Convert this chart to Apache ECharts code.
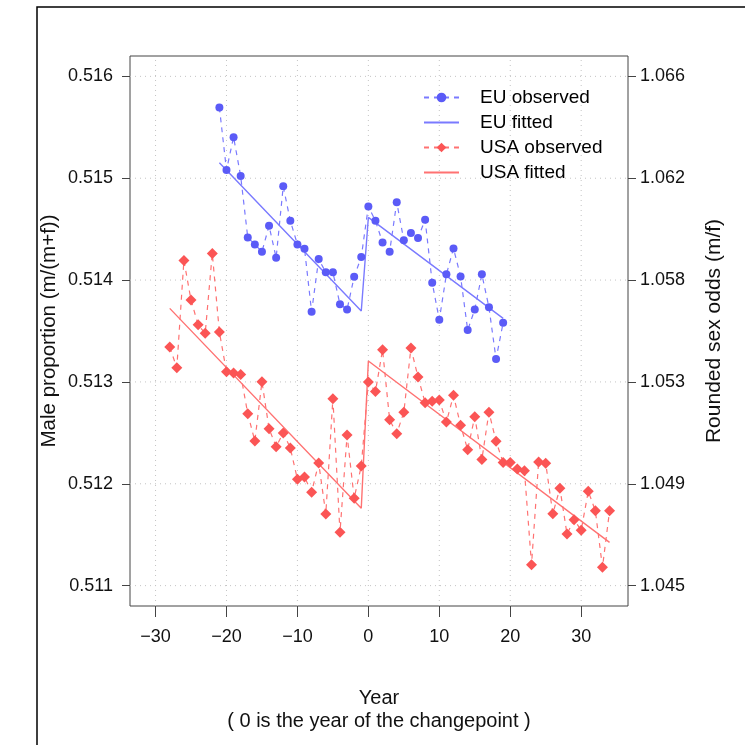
<!DOCTYPE html>
<html>
<head>
<meta charset="utf-8">
<script src="https://cdn.jsdelivr.net/npm/echarts@6/dist/echarts.min.js"></script>
<style>
html,body{margin:0;padding:0;background:#fff;}
#chart{width:745px;height:745px;}
</style>
</head>
<body>
<div id="chart"></div>
<script>
// ---- data ----
const euYears = [-21,-20,-19,-18,-17,-16,-15,-14,-13,-12,-11,-10,-9,-8,-7,-6,-5,-4,-3,-2,-1,
  0,1,2,3,4,5,6,7,8,9,10,11,12,13,14,15,16,17,18,19];
const euObserved = [0.515695,0.515080,0.515403,0.515021,0.514419,0.514350,0.514278,0.514533,0.514219,0.514920,
  0.514582,0.514350,0.514307,0.513689,0.514206,0.514076,0.514076,0.513762,0.513712,0.514032,0.514226,
  0.514723,0.514582,0.514370,0.514278,0.514765,0.514390,0.514461,0.514412,0.514592,0.513974,
  0.513610,0.514056,0.514311,0.514036,0.513509,0.513712,0.514056,0.513732,0.513225,0.513581];
const euFitYears = [-21,-1,0,19];
const euFitted = [0.515151,0.513696,0.514615,0.513624];

const usaYears = [-28,-27,-26,-25,-24,-23,-22,-21,-20,-19,-18,-17,-16,-15,-14,-13,-12,-11,-10,-9,-8,-7,-6,-5,-4,-3,-2,-1,
  0,1,2,3,4,5,6,7,8,9,10,11,12,13,14,15,16,17,18,19,20,21,22,23,24,25,26,27,28,29,30,31,32,33,34];
const usaObserved = [0.513342,0.513139,0.514193,0.513804,0.513561,0.513477,0.514262,0.513490,0.513100,0.513087,
  0.513074,0.512688,0.512420,0.513002,0.512541,0.512364,0.512499,0.512351,0.512044,0.512067,
  0.511917,0.512204,0.511704,0.512836,0.511523,0.512478,0.511859,0.512175,
  0.513000,0.512905,0.513316,0.512629,0.512492,0.512702,0.513333,0.513048,0.512796,0.512810,
  0.512822,0.512606,0.512868,0.512574,0.512335,0.512659,0.512238,0.512703,0.512418,0.512208,
  0.512208,0.512146,0.512129,0.511206,0.512215,0.512202,0.511705,0.511956,0.511507,0.511648,
  0.511543,0.511926,0.511734,0.511180,0.511734];
const usaFitYears = [-28,-1,0,34];
const usaFitted = [0.513722,0.511760,0.513205,0.511425];

const xTicks = [-30,-20,-10,0,10,20,30];
const xTickLabels = ['\u221230','\u221220','\u221210','0','10','20','30'];
const yTicks = [0.511,0.512,0.513,0.514,0.515,0.516];
const yTickLabels = ['0.511','0.512','0.513','0.514','0.515','0.516'];
const rightTickLabels = ['1.045','1.049','1.053','1.058','1.062','1.066'];

const seriesNames = ['EU observed','EU fitted','USA observed','USA fitted'];

// ---- chart ----
const FONT = '"Liberation Sans", Arial, sans-serif';
const X_MIN = -33.6, X_MAX = 36.6, Y_MIN = 0.5108, Y_MAX = 0.5162;
const pair = (xs, ys) => xs.map((x, i) => [x, ys[i]]);
const idxOf = (arr, v) => arr.findIndex(t => Math.abs(t - v) < 1e-9);

const chart = echarts.init(document.getElementById('chart'), null, {renderer: 'canvas'});

const yAxisBase = {
  type: 'value', min: Y_MIN, max: Y_MAX,
  splitLine: {show: false},
  axisLine: {show: false, onZero: false},
  axisTick: {show: true, inside: false, length: 8, customValues: yTicks, lineStyle: {color: '#444'}},
};

const gridLineStyle = {type: [1, 4], color: '#c4c4c4', width: 1};
const gridSeries = xTicks.map(v => ({
  name: 'gx' + v, type: 'line', data: [[v, Y_MIN], [v, Y_MAX]], symbol: 'none', silent: true, z: 0,
  lineStyle: gridLineStyle
})).concat(yTicks.map(v => ({
  name: 'gy' + v, type: 'line', data: [[X_MIN, v], [X_MAX, v]], symbol: 'none', silent: true, z: 0,
  lineStyle: gridLineStyle
})));

chart.setOption({
  animation: false,
  backgroundColor: '#fff',
  textStyle: {fontFamily: FONT},
  grid: {left: 130, top: 56, width: 498, height: 550, show: true, borderColor: '#444', borderWidth: 1, backgroundColor: 'transparent', containLabel: false},
  xAxis: {
    type: 'value', min: X_MIN, max: X_MAX,
    splitLine: {show: false},
    axisLine: {show: false, onZero: false},
    axisTick: {show: true, length: 11, customValues: xTicks, lineStyle: {color: '#444'}},
    axisLabel: {customValues: xTicks, margin: 22, fontSize: 18, color: '#111', fontFamily: FONT,
      formatter: v => xTickLabels[idxOf(xTicks, v)]}
  },
  yAxis: [
    Object.assign({}, yAxisBase, {position: 'left',
      axisLabel: {customValues: yTicks, margin: 17, fontSize: 18, color: '#111', fontFamily: FONT,
        formatter: v => yTickLabels[idxOf(yTicks, v)]}}),
    Object.assign({}, yAxisBase, {position: 'right',
      axisLabel: {customValues: yTicks, margin: 12, fontSize: 18, color: '#111', fontFamily: FONT,
        formatter: v => rightTickLabels[idxOf(yTicks, v)]}})
  ],
  legend: {
    orient: 'vertical', left: 423, top: 88, padding: 0,
    itemWidth: 35, itemHeight: 12, itemGap: 6,
    data: [
      {name: seriesNames[0]},
      {name: seriesNames[1], itemStyle: {opacity: 0}},
      {name: seriesNames[2]},
      {name: seriesNames[3], itemStyle: {opacity: 0}}
    ],
    textStyle: {fontSize: 19, color: '#000', fontFamily: FONT, padding: [0, 0, 0, 16], lineHeight: 16}
  },
  series: gridSeries.concat([
    {
      name: seriesNames[0], type: 'line', data: pair(euYears, euObserved),
      symbol: 'circle', symbolSize: 8,
      itemStyle: {color: '#5b5bf7'},
      lineStyle: {color: '#7a7aff', width: 1.2, type: [5, 5]},
      z: 3
    },
    {
      name: seriesNames[1], type: 'line', data: pair(euFitYears, euFitted),
      symbol: 'none', itemStyle: {color: '#7a7aff'},
      lineStyle: {color: '#7a7aff', width: 1.4}, z: 2
    },
    {
      name: seriesNames[2], type: 'line', data: pair(usaYears, usaObserved),
      symbol: 'diamond', symbolSize: 11,
      itemStyle: {color: '#fb5555'},
      lineStyle: {color: '#ff7272', width: 1.2, type: [5, 5]},
      z: 3
    },
    {
      name: seriesNames[3], type: 'line', data: pair(usaFitYears, usaFitted),
      symbol: 'none', itemStyle: {color: '#ff7272'},
      lineStyle: {color: '#ff7272', width: 1.4}, z: 2
    }
  ]),
  graphic: [
    {type: 'rect', silent: true, z: -1,
      shape: {x: 37, y: 7, width: 720, height: 760}, style: {fill: 'none', stroke: '#000', lineWidth: 1.5}},
    {type: 'text', x: 49, y: 331, rotation: Math.PI / 2, silent: true,
      style: {text: 'Male proportion (m/(m+f))', fontSize: 20.5, fontFamily: FONT, fill: '#111', align: 'center', verticalAlign: 'middle'}},
    {type: 'text', x: 714, y: 331, rotation: Math.PI / 2, silent: true,
      style: {text: 'Rounded sex odds (m/f)', fontSize: 21, fontFamily: FONT, fill: '#111', align: 'center', verticalAlign: 'middle'}},
    {type: 'text', x: 379, y: 698, silent: true,
      style: {text: 'Year', fontSize: 20, fontFamily: FONT, fill: '#111', align: 'center', verticalAlign: 'middle'}},
    {type: 'text', x: 379, y: 721, silent: true,
      style: {text: '( 0 is the year of the changepoint )', fontSize: 20, fontFamily: FONT, fill: '#111', align: 'center', verticalAlign: 'middle'}}
  ]
});
</script>
</body>
</html>
